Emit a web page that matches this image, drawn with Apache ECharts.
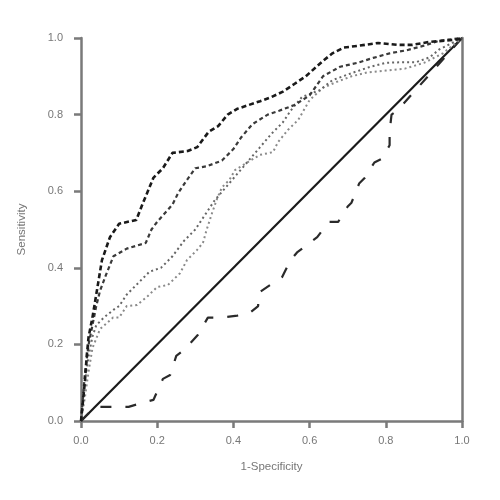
<!DOCTYPE html>
<html><head><meta charset="utf-8">
<script src="https://cdn.jsdelivr.net/npm/echarts@6/dist/echarts.min.js"></script>
<style>html,body{margin:0;padding:0;background:#fff}#c{width:500px;height:500px}</style>
</head><body><div id="c"></div>
<script>
const xTicks = [0, 0.2, 0.4, 0.6, 0.8, 1.0];
const yTicks = [0, 0.2, 0.4, 0.6, 0.8, 1.0];
const xName = '1-Specificity';
const yName = 'Sensitivity';

const diagonal = [[0,0],[1,1]];

const curveA = [[0,0],[0.005,0.05],[0.01,0.1],[0.015,0.17],[0.02,0.22],[0.03,0.27],[0.04,0.33],[0.05,0.39],[0.055,0.42],[0.076,0.48],[0.1,0.515],[0.145,0.525],[0.163,0.57],[0.19,0.635],[0.215,0.66],[0.24,0.7],[0.28,0.705],[0.305,0.715],[0.335,0.755],[0.36,0.77],[0.385,0.8],[0.41,0.815],[0.44,0.825],[0.47,0.835],[0.5,0.846],[0.53,0.86],[0.56,0.88],[0.59,0.9],[0.635,0.94],[0.66,0.96],[0.69,0.975],[0.73,0.98],[0.78,0.987],[0.83,0.982],[0.87,0.982],[0.915,0.99],[0.98,0.995],[1,1]];

const curveB = [[0,0],[0.005,0.06],[0.01,0.12],[0.02,0.2],[0.03,0.25],[0.04,0.3],[0.05,0.34],[0.065,0.38],[0.085,0.43],[0.12,0.45],[0.17,0.465],[0.185,0.5],[0.2,0.52],[0.24,0.565],[0.255,0.595],[0.275,0.625],[0.3,0.66],[0.33,0.665],[0.37,0.68],[0.4,0.71],[0.42,0.74],[0.45,0.775],[0.49,0.8],[0.52,0.81],[0.56,0.825],[0.6,0.85],[0.635,0.9],[0.68,0.925],[0.725,0.935],[0.767,0.948],[0.81,0.96],[0.855,0.968],[0.9,0.98],[0.94,0.993],[1,1]];

const curveC = [[0,0],[0.005,0.05],[0.01,0.1],[0.02,0.17],[0.03,0.22],[0.04,0.25],[0.06,0.27],[0.085,0.29],[0.1,0.3],[0.12,0.33],[0.15,0.36],[0.18,0.39],[0.21,0.4],[0.24,0.43],[0.27,0.47],[0.3,0.5],[0.32,0.53],[0.35,0.575],[0.38,0.61],[0.41,0.645],[0.44,0.68],[0.47,0.715],[0.5,0.75],[0.53,0.78],[0.55,0.81],[0.58,0.846],[0.627,0.864],[0.66,0.89],[0.715,0.91],[0.76,0.925],[0.8,0.935],[0.845,0.937],[0.88,0.937],[0.916,0.95],[0.94,0.97],[0.97,0.985],[1,1]];

const curveD = [[0,0],[0.01,0.06],[0.02,0.13],[0.03,0.19],[0.05,0.24],[0.084,0.27],[0.1,0.27],[0.12,0.3],[0.147,0.303],[0.173,0.324],[0.2,0.35],[0.228,0.355],[0.26,0.386],[0.278,0.42],[0.304,0.446],[0.32,0.465],[0.33,0.5],[0.344,0.543],[0.357,0.58],[0.37,0.61],[0.39,0.63],[0.404,0.655],[0.438,0.676],[0.47,0.695],[0.504,0.702],[0.517,0.728],[0.543,0.76],[0.57,0.786],[0.6,0.838],[0.635,0.87],[0.67,0.885],[0.71,0.9],[0.75,0.91],[0.8,0.915],[0.85,0.92],[0.9,0.935],[0.95,0.96],[1,1]];

const curveE = [[0,0],[0.02,0.02],[0.04,0.037],[0.1,0.037],[0.125,0.037],[0.17,0.05],[0.19,0.055],[0.215,0.11],[0.234,0.12],[0.25,0.17],[0.27,0.185],[0.307,0.225],[0.333,0.27],[0.365,0.27],[0.41,0.275],[0.44,0.28],[0.465,0.3],[0.465,0.334],[0.504,0.36],[0.528,0.376],[0.55,0.42],[0.567,0.44],[0.6,0.465],[0.62,0.48],[0.65,0.52],[0.675,0.52],[0.7,0.56],[0.71,0.57],[0.73,0.62],[0.745,0.635],[0.77,0.675],[0.79,0.685],[0.81,0.72],[0.81,0.755],[0.815,0.8],[0.83,0.81],[1,1]];

const axisColor = '#7a7a7a';
const labelStyle = {color:'#777777', fontSize:11, fontFamily:'Liberation Sans, Arial, sans-serif'};

function line(data, color, width, type) {
  return {type:'line', data:data, symbol:'none', smooth:false, silent:true,
    lineStyle:{color:color, width:width, type:type}, z:3};
}

const chart = echarts.init(document.getElementById('c'), null, {renderer:'canvas'});
chart.setOption({
  animation:false,
  backgroundColor:'#fff',
  grid:{left:81, right:38, top:38, bottom:79},
  xAxis:{type:'value', min:0, max:1, interval:0.2,
    name:xName, nameLocation:'middle', nameGap:40,
    nameTextStyle:Object.assign({}, labelStyle, {fontSize:11.5}),
    axisLine:{show:true, lineStyle:{color:axisColor, width:2.5}},
    axisTick:{show:true, length:7, lineStyle:{color:axisColor, width:2.5}},
    axisLabel:Object.assign({margin:14, formatter:v=>xTicks.includes(+v.toFixed(1))?v.toFixed(1):''}, labelStyle),
    splitLine:{show:false}},
  yAxis:[{type:'value', min:0, max:1, interval:0.2,
    name:yName, nameLocation:'middle', nameGap:53,
    nameTextStyle:Object.assign({}, labelStyle, {fontSize:11.5}),
    axisLine:{show:true, lineStyle:{color:axisColor, width:2.5}},
    axisTick:{show:true, length:7, lineStyle:{color:axisColor, width:2.5}},
    axisLabel:Object.assign({margin:18, formatter:v=>yTicks.includes(+v.toFixed(1))?v.toFixed(1):''}, labelStyle),
    splitLine:{show:false}},
   {type:'value', min:0, max:1, position:'right',
    axisLine:{show:true, lineStyle:{color:axisColor, width:2.5}},
    axisTick:{show:false}, axisLabel:{show:false}, splitLine:{show:false}}],
  series:[
    Object.assign(line(diagonal, '#1a1a1a', 2.2, 'solid'), {clip:false,
      markLine:{silent:true, symbol:'none', label:{show:false},
        lineStyle:{color:axisColor, width:2.5, type:'solid'},
        data:[[{coord:[0,1]},{coord:[0,1.022]}],[{coord:[1,1]},{coord:[1,1.022]}]]}}),
    line(curveE, '#2a2a2a', 2.2, [11,14]),
    line(curveD, '#8a8a8a', 2, [2,3]),
    line(curveC, '#666666', 2, [2,3]),
    line(curveB, '#3a3a3a', 2.2, [4,3]),
    line(curveA, '#1a1a1a', 2.6, [5,3])
  ]
});
</script></body></html>
